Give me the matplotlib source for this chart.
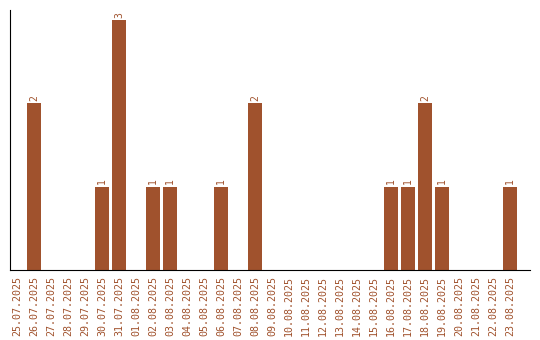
import matplotlib
matplotlib.use('Agg')
import matplotlib.pyplot as plt

dates = ['25.07.2025', '26.07.2025', '27.07.2025', '28.07.2025', '29.07.2025',
         '30.07.2025', '31.07.2025', '01.08.2025', '02.08.2025', '03.08.2025',
         '04.08.2025', '05.08.2025', '06.08.2025', '07.08.2025', '08.08.2025',
         '09.08.2025', '10.08.2025', '11.08.2025', '12.08.2025', '13.08.2025',
         '14.08.2025', '15.08.2025', '16.08.2025', '17.08.2025', '18.08.2025',
         '19.08.2025', '20.08.2025', '21.08.2025', '22.08.2025', '23.08.2025']
counts = [0, 2, 0, 0, 0, 1, 3, 0, 1, 1, 0, 0, 1, 0, 2,
          0, 0, 0, 0, 0, 0, 0, 1, 1, 2, 1, 0, 0, 0, 1]

color = '#A0522D'
plt.rcParams['font.family'] = ['DejaVu Sans Mono']

fig = plt.figure(figsize=(5.4, 3.4), dpi=100)
ax = fig.add_axes([10 / 540, 70 / 340, 520 / 540, 260 / 340])

x = list(range(len(dates)))
ax.bar(x, counts, width=0.82, color=color)
for xi, c in zip(x, counts):
    if c > 0:
        ax.text(xi, c + 0.03, str(c), rotation=90, ha='center', va='bottom',
                color=color, fontsize=7)

ax.set_xlim(-0.41, 30.18)
ax.set_ylim(0, 3.12)
ax.set_xticks(x)
ax.set_xticklabels(dates, rotation=90, color=color, fontsize=7.2)
ax.tick_params(axis='x', length=0, pad=4)
ax.set_yticks([])
ax.spines['top'].set_visible(False)
ax.spines['right'].set_visible(False)

fig.savefig('out.png', dpi=100)
